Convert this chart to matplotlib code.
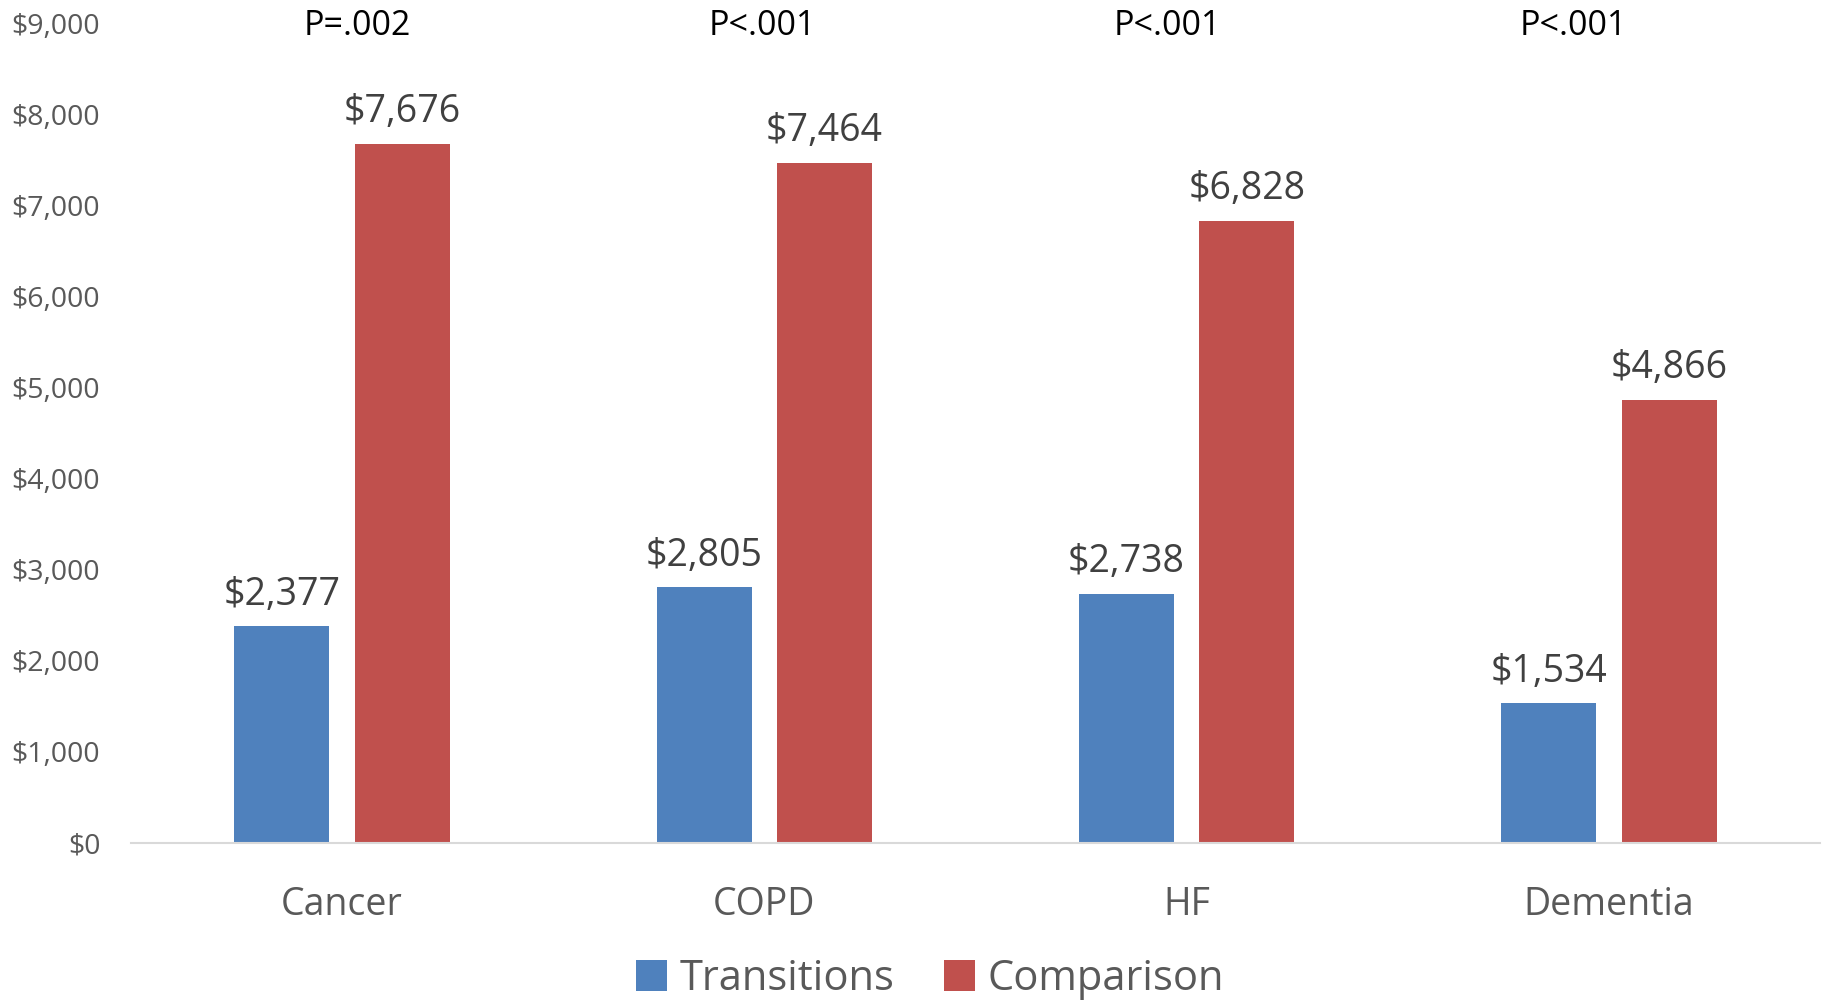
import numpy as np
import matplotlib
matplotlib.use("agg")
import matplotlib.pyplot as plt
from matplotlib.ticker import FuncFormatter

plt.rcParams['font.family'] = ['Open Sans', 'DejaVu Sans']

# datos
categories = ["Cancer", "COPD", "HF", "Dementia"]
transitions = [2377, 2805, 2738, 1534]
comparison = [7676, 7464, 6828, 4866]
p_values = ["P=.002", "P<.001", "P<.001", "P<.001"]
series_names = ["Transitions", "Comparison"]

BLUE = "#4F81BD"
RED = "#C0504D"
GRAY = "#595959"
DARK = "#404040"

fig = plt.figure(figsize=(18.26, 10), dpi=100)
ax = fig.add_axes([0.0717, 0.157, 0.925, 0.820])

x = np.arange(len(categories))
w = 0.225
gap = 0.06
b1 = ax.bar(x - (w + gap) / 2, transitions, w, color=BLUE, label=series_names[0])
b2 = ax.bar(x + (w + gap) / 2, comparison, w, color=RED, label=series_names[1])

for bars in (b1, b2):
    for r in bars:
        ax.annotate(f"${r.get_height():,.0f}",
                    (r.get_x() + r.get_width() / 2, r.get_height()),
                    xytext=(0, 9), textcoords="offset points",
                    ha="center", va="bottom", fontsize=27, color=DARK)

# valores p arriba (cajas de texto algo desplazadas respecto a las categorías)
for xi, p in zip(x, p_values):
    ax.text(xi * 0.96 + 0.035, 8965, p, ha="center", va="center",
            fontsize=24.5, color="black")

ax.set_xlim(-0.5, len(categories) - 0.5)
ax.set_ylim(0, 9000)
ax.set_yticks(np.arange(0, 9001, 1000))
ax.yaxis.set_major_formatter(FuncFormatter(lambda v, _: f"${v:,.0f}"))
ax.set_xticks(x)
ax.set_xticklabels(categories)

ax.tick_params(axis="y", length=0, pad=22, labelsize=20.5, labelcolor=GRAY)
ax.tick_params(axis="x", length=0, pad=31, labelsize=27, labelcolor=GRAY)

for s in ("top", "right", "left"):
    ax.spines[s].set_visible(False)
ax.spines["bottom"].set_color("#D9D9D9")
ax.spines["bottom"].set_linewidth(1.5)

leg = fig.legend(loc="center", bbox_to_anchor=(930 / 1826, 1 - 979 / 1000),
                 ncol=2, frameon=False, fontsize=30, handlelength=0.75,
                 handleheight=0.75, handletextpad=0.3, columnspacing=1.2)
for t in leg.get_texts():
    t.set_color(GRAY)

fig.savefig("out.png", dpi=100)
